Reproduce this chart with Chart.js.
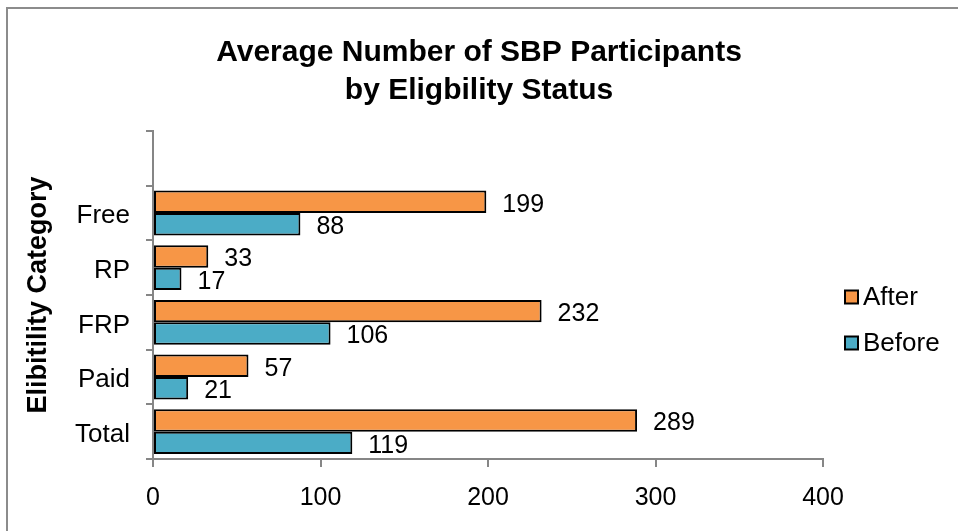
<!DOCTYPE html>
<html>
<head>
<meta charset="utf-8">
<script src="https://cdn.jsdelivr.net/npm/chart.js@4"></script>
<style>
  html, body { margin: 0; padding: 0; background: #fff; }
  #wrap { position: relative; width: 958px; height: 531px; overflow: hidden; }
  #frame { position: absolute; left: 6px; top: 7px; width: 1000px; height: 600px;
           border-top: 2px solid #8c8c8c; border-left: 2px solid #8c8c8c; }
  canvas { position: absolute; left: 0; top: 0; }
</style>
</head>
<body>
<div id="wrap">
  <div id="frame"></div>
  <canvas id="chart" width="958" height="531"></canvas>
</div>
<script>
const categories = ['', 'Free', 'RP', 'FRP', 'Paid', 'Total'];
const afterValues = [null, 199, 33, 232, 57, 289];
const beforeValues = [null, 88, 17, 106, 21, 119];
const xTicks = [0, 100, 200, 300, 400];

const FONT = "'Liberation Sans', Arial, sans-serif";
const axisGrey = '#868686';

// end-of-bar value labels
const valueLabels = {
    id: 'valueLabels',
    afterDatasetsDraw(chart) {
        const ctx = chart.ctx;
        ctx.save();
        ctx.font = '25px ' + FONT;
        ctx.fillStyle = '#000';
        ctx.textAlign = 'left';
        ctx.textBaseline = 'middle';
        chart.data.datasets.forEach((ds, i) => {
            chart.getDatasetMeta(i).data.forEach((bar, j) => {
                if (ds.data[j] == null) return;
                ctx.fillText(ds.data[j], bar.x + 16, bar.y + 3);
            });
        });
        ctx.restore();
    }
};

// Excel-style legend to the right of the plot
const sideLegend = {
    id: 'sideLegend',
    afterDraw(chart) {
        const ctx = chart.ctx;
        const area = chart.chartArea;
        const x = area.right + 22;
        let y = (area.top + area.bottom) / 2 + 2;
        ctx.save();
        ctx.font = '26px ' + FONT;
        ctx.textAlign = 'left';
        ctx.textBaseline = 'middle';
        chart.data.datasets.forEach(ds => {
            ctx.fillStyle = ds.backgroundColor;
            ctx.fillRect(x, y - 6.5, 13, 13);
            ctx.strokeStyle = '#000';
            ctx.lineWidth = 2;
            ctx.strokeRect(x, y - 6.5, 13, 13);
            ctx.fillStyle = '#000';
            ctx.fillText(ds.label, x + 18, y + 1);
            y += 46;
        });
        ctx.restore();
    }
};

new Chart(document.getElementById('chart'), {
    type: 'bar',
    data: {
        labels: categories,
        datasets: [{
            label: 'After',
            data: afterValues,
            backgroundColor: '#F79646',
            borderColor: '#000',
            borderWidth: 2,
            borderSkipped: false,
        }, {
            label: 'Before',
            data: beforeValues,
            backgroundColor: '#4BACC6',
            borderColor: '#000',
            borderWidth: 2,
            borderSkipped: false,
        }],
    },
    options: {
        indexAxis: 'y',
        responsive: false,
        animation: false,
        layout: { padding: { left: 0, top: 34, right: 0, bottom: 0 } },
        categoryPercentage: 0.82,
        barPercentage: 1,
        plugins: {
            title: {
                display: true,
                text: ['Average Number of SBP Participants', 'by Eligbility Status'],
                color: '#000',
                font: { family: FONT, size: 30, weight: 'bold', lineHeight: 1.25 },
                padding: { top: 0, bottom: 22 },
            },
            legend: { display: false },
            tooltip: { enabled: false },
        },
        scales: {
            x: {
                min: 0,
                max: 400,
                afterBuildTicks(scale) {
                    scale.ticks = xTicks.map(v => ({ value: v }));
                },
                afterFit(scale) { scale.height = 72; },
                grid: { drawOnChartArea: false, color: axisGrey, lineWidth: 2, tickLength: 8 },
                border: { color: axisGrey, width: 2 },
                ticks: { color: '#000', font: { family: FONT, size: 25 }, padding: 16 },
            },
            y: {
                afterFit(scale) { scale.width = 153; },
                grid: { offset: true, drawOnChartArea: false, color: axisGrey, lineWidth: 2, tickLength: 7 },
                border: { color: axisGrey, width: 2 },
                ticks: { color: '#000', font: { family: FONT, size: 26 }, padding: 16, labelOffset: 3 },
                title: {
                    display: true,
                    text: 'Elibitility Category',
                    color: '#000',
                    font: { family: FONT, size: 27, weight: 'bold', lineHeight: 1.2 },
                    padding: { top: 22, bottom: 0 },
                },
            },
            // empty right-hand axis that only reserves room for the legend
            legendSpace: {
                type: 'linear',
                position: 'right',
                afterFit(scale) { scale.width = 135; },
                grid: { display: false },
                border: { display: false },
                ticks: { display: false },
            },
        },
    },
    plugins: [valueLabels, sideLegend],
});
</script>
</body>
</html>
